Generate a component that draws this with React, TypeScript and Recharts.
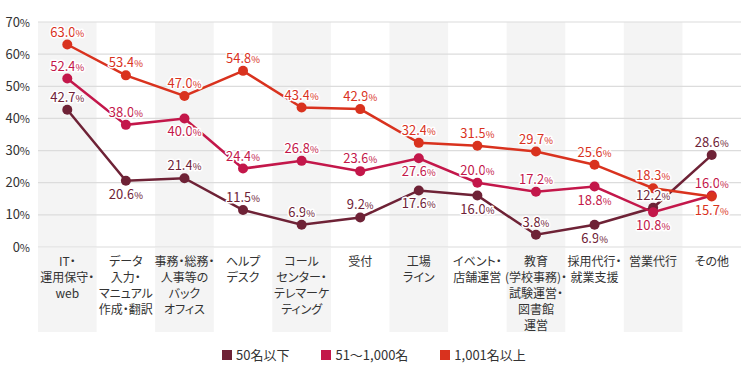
import React from 'react';
import { LineChart, Line, XAxis, YAxis, CartesianGrid, ReferenceArea, LabelList } from 'recharts';

const categories = [
  'IT・\n運用保守・\nweb',
  'データ\n入力・\nマニュアル\n作成・翻訳',
  '事務・総務・\n人事等の\nバック\nオフィス',
  'ヘルプ\nデスク',
  'コール\nセンター・\nテレマーケ\nティング',
  '受付',
  '工場\nライン',
  'イベント・\n店舗運営',
  '教育\n(学校事務)・\n試験運営・\n図書館\n運営',
  '採用代行・\n就業支援',
  '営業代行',
  'その他',
];

const seriesNames = ['50名以下', '51～1,000名', '1,001名以上'];
const small = [42.7, 20.6, 21.4, 11.5, 6.9, 9.2, 17.6, 16.0, 3.8, 6.9, 12.2, 28.6];
const medium = [52.4, 38.0, 40.0, 24.4, 26.8, 23.6, 27.6, 20.0, 17.2, 18.8, 10.8, 16.0];
const large = [63.0, 53.4, 47.0, 54.8, 43.4, 42.9, 32.4, 31.5, 29.7, 25.6, 18.3, 15.7];
const yTicks = [0, 10, 20, 30, 40, 50, 60, 70];

// label placement: t = above, b = below
const smallPos = ['t', 'b', 't', 't', 't', 't', 'b', 'b', 't', 'b', 't', 't'];
const mediumPos = ['t', 't', 'b', 't', 't', 't', 'b', 't', 't', 'b', 'b', 't'];
const largePos = ['t', 't', 't', 't', 't', 't', 't', 't', 't', 't', 't', 'b'];

const colors = ['#6e2236', '#c3174a', '#d9321e'];
const FONT = "'Noto Sans CJK JP', 'Liberation Sans', sans-serif";
const PALT = { fontFeatureSettings: '"palt"' } as React.CSSProperties;

const data = categories.map((c, i) => ({ cat: c, s1: small[i], s2: medium[i], s3: large[i] }));

const makeLabel = (color: string, pos: string[]) => (props: any) => {
  const { x, y, value, index } = props;
  if (x == null || y == null) return null;
  const below = pos[index] === 'b';
  const ty = below ? y + 18 : y - 8;
  return (
    <text
      x={x}
      y={ty}
      textAnchor="middle"
      fill={color}
      fontSize={13}
      fontFamily={FONT}
      stroke="#fff"
      strokeWidth={3}
      paintOrder="stroke"
      strokeLinejoin="round"
    >
      {Number(value).toFixed(1)}
      <tspan fontSize={9.5}>%</tspan>
    </text>
  );
};

const YTick = (props: any) => {
  const { x, y, payload } = props;
  return (
    <text x={x} y={y} dy="0.35em" textAnchor="end" fill="#333" fontSize={13} fontFamily={FONT}>
      {payload.value}
      <tspan fontSize={11}>%</tspan>
    </text>
  );
};

const XTick = (props: any) => {
  const { x, y, payload, width } = props;
  const idx = categories.indexOf(payload.value);
  const bw = (width || 703) / categories.length;
  const lines = String(payload.value).split('\n');
  return (
    <g>
      {idx % 2 === 0 && (
        <rect x={x - bw / 2} y={y + 1} width={bw} height={84} fill="#f4f4f4" />
      )}
      <text x={x} y={y + 19} textAnchor="middle" fill="#333" fontSize={12} fontFamily={FONT} style={PALT}>
        {lines.map((l, i) => (
          <tspan key={i} x={x} dy={i === 0 ? 0 : 16}>
            {l}
          </tspan>
        ))}
      </text>
    </g>
  );
};

export default function App() {
  return (
    <div style={{ position: 'absolute', left: 0, top: 0, width: 750, height: 380, background: '#fff' }}>
      <LineChart width={750} height={380} data={data} margin={{ top: 22, right: 9, left: 0, bottom: 0 }}>
        {categories.map((c, i) =>
          i % 2 === 0 ? (
            <ReferenceArea
              key={c}
              x1={c}
              x2={c}
              y1={0}
              y2={70}
              fill="#f4f4f4"
              fillOpacity={1}
              stroke="none"
              zIndex={-200}
            />
          ) : null
        )}
        <CartesianGrid vertical={false} stroke="#dcdcdc" strokeWidth={1.2} />
        <XAxis
          dataKey="cat"
          scale="band"
          interval={0}
          tickLine={false}
          axisLine={false}
          tickSize={0}
          tickMargin={0}
          height={133}
          tick={<XTick />}
        />
        <YAxis
          width={38}
          domain={[0, 70]}
          ticks={yTicks}
          tickLine={false}
          axisLine={false}
          tick={<YTick />}
        />
        <Line
          dataKey="s1"
          name={seriesNames[0]}
          stroke={colors[0]}
          strokeWidth={2.5}
          dot={{ r: 5, fill: colors[0], stroke: colors[0], strokeWidth: 0 }}
          isAnimationActive={false}
        >
          <LabelList dataKey="s1" content={makeLabel(colors[0], smallPos)} />
        </Line>
        <Line
          dataKey="s2"
          name={seriesNames[1]}
          stroke={colors[1]}
          strokeWidth={2.5}
          dot={{ r: 5, fill: colors[1], stroke: colors[1], strokeWidth: 0 }}
          isAnimationActive={false}
        >
          <LabelList dataKey="s2" content={makeLabel(colors[1], mediumPos)} />
        </Line>
        <Line
          dataKey="s3"
          name={seriesNames[2]}
          stroke={colors[2]}
          strokeWidth={2.5}
          dot={{ r: 5, fill: colors[2], stroke: colors[2], strokeWidth: 0 }}
          isAnimationActive={false}
        >
          <LabelList dataKey="s3" content={makeLabel(colors[2], largePos)} />
        </Line>
      </LineChart>
      <div
        style={{
          position: 'absolute',
          left: 222,
          top: 345,
          display: 'flex',
          alignItems: 'center',
          fontFamily: FONT,
          fontSize: 13,
          color: '#333',
          ...PALT,
        }}
      >
        {seriesNames.map((n, i) => (
          <div key={n} style={{ display: 'flex', alignItems: 'center', marginRight: 32 }}>
            <span style={{ display: 'inline-block', width: 10, height: 10, background: colors[i], marginRight: 4 }} />
            <span>{n}</span>
          </div>
        ))}
      </div>
    </div>
  );
}
